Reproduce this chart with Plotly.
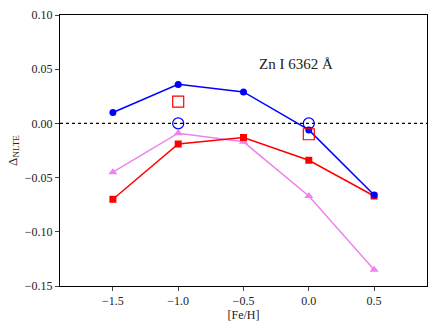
import plotly.graph_objects as go

feh = [-1.5, -1.0, -0.5, 0.0, 0.5]
blue_vals = [0.010, 0.036, 0.029, -0.006, -0.066]
red_vals = [-0.070, -0.019, -0.013, -0.034, -0.067]
violet_vals = [-0.045, -0.009, -0.017, -0.067, -0.135]

open_x = [-1.0, 0.0]
open_circle_vals = [0.0, 0.0]
open_square_vals = [0.020, -0.010]

font_family = "Liberation Serif, DejaVu Serif, serif"

fig = go.Figure()

# zero reference line
fig.add_hline(y=0, line=dict(color="black", width=1.3, dash="dot"))

fig.add_trace(go.Scatter(x=feh, y=violet_vals, mode="lines+markers",
                         line=dict(color="violet", width=1.5),
                         marker=dict(symbol="triangle-up", size=8, color="violet")))
fig.add_trace(go.Scatter(x=feh, y=red_vals, mode="lines+markers",
                         line=dict(color="red", width=1.5),
                         marker=dict(symbol="square", size=7, color="red")))
fig.add_trace(go.Scatter(x=feh, y=blue_vals, mode="lines+markers",
                         line=dict(color="blue", width=1.5),
                         marker=dict(symbol="circle", size=7, color="blue")))
fig.add_trace(go.Scatter(x=open_x, y=open_circle_vals, mode="markers",
                         marker=dict(symbol="circle-open", size=11, color="blue",
                                     line=dict(width=1.2))))
fig.add_trace(go.Scatter(x=open_x, y=open_square_vals, mode="markers",
                         marker=dict(symbol="square-open", size=11, color="red",
                                     line=dict(width=1.2))))

fig.add_annotation(x=-0.1, y=0.055, text="Zn I 6362 Å", showarrow=False,
                   font=dict(size=15, color="#222"))

fig.update_layout(
    width=436, height=328,
    margin=dict(l=60, r=8, t=12, b=42),
    plot_bgcolor="white", paper_bgcolor="white",
    showlegend=False,
    font=dict(family=font_family, size=12, color="#222"),
)
fig.update_xaxes(range=[-1.905, 0.905], tickvals=[-1.5, -1.0, -0.5, 0.0, 0.5],
                 ticktext=["−1.5", "−1.0", "−0.5", "0.0", "0.5"],
                 showgrid=False, zeroline=False, showline=True, linecolor="black",
                 linewidth=1, mirror=True, ticks="outside", ticklen=4,
                 title=dict(text="[Fe/H]", standoff=2, font=dict(size=12)))
fig.update_yaxes(range=[-0.15, 0.10], tickvals=[-0.15, -0.10, -0.05, 0.0, 0.05, 0.10],
                 ticktext=["−0.15", "−0.10", "−0.05", "0.00", "0.05", "0.10"],
                 showgrid=False, zeroline=False, showline=True, linecolor="black",
                 linewidth=1, mirror=True, ticks="outside", ticklen=4,
                 title=dict(text="Δ<sub>NLTE</sub>", standoff=4, font=dict(size=13)))

fig.write_html("out.html", config={"displayModeBar": False},
               post_script="document.body.style.margin='0';")
